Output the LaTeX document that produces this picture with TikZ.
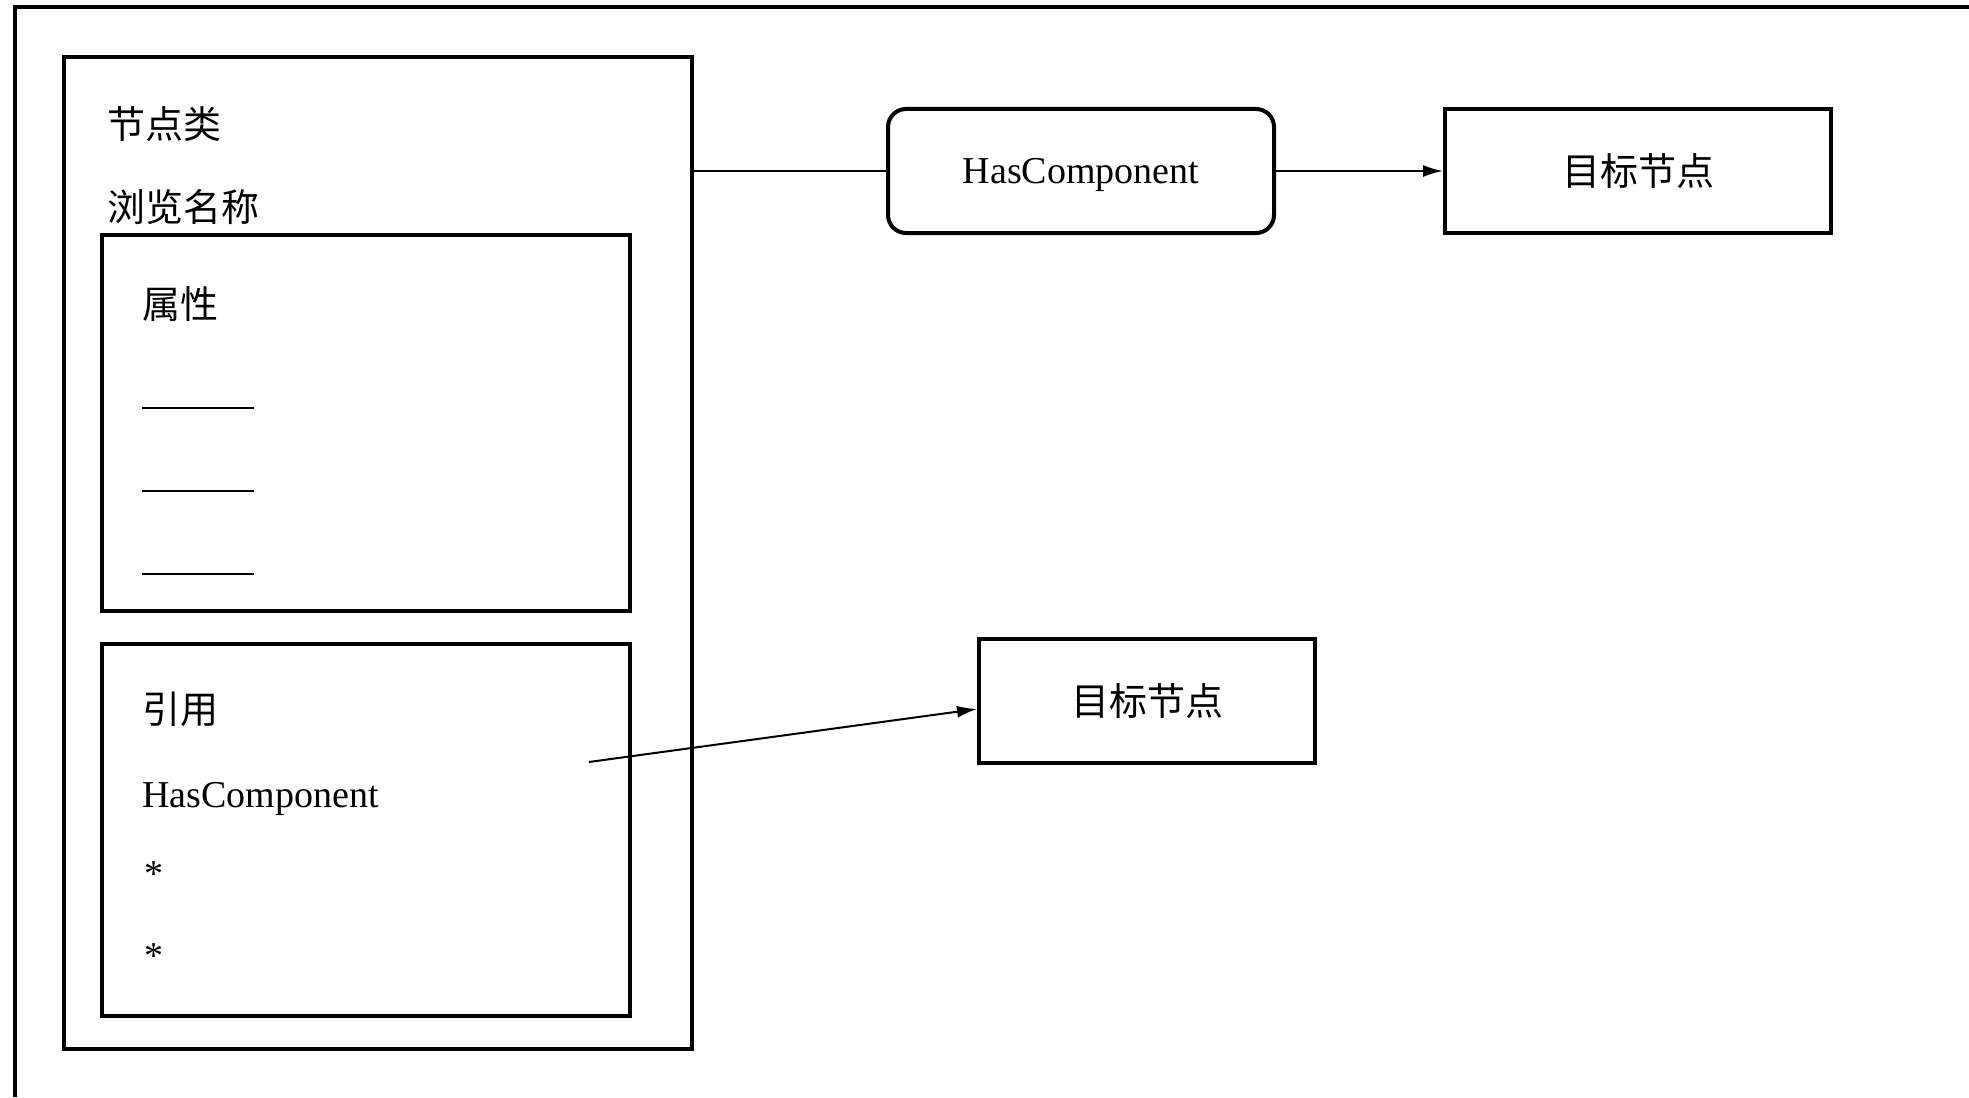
\documentclass[tikz,border=0pt]{standalone}
\usepackage{fontspec}
\setmainfont{Liberation Serif}
\newfontfamily\cjk{Noto Sans CJK SC}
\usetikzlibrary{arrows.meta,positioning,calc}

\begin{document}
\begin{tikzpicture}[
  x=0.5pt,y=-0.5pt,
  font=\fontsize{19}{23}\selectfont,
  >=Latex,
  arrow/.style={-{Latex[length=10pt,width=6pt]},line width=1pt},
  link/.style={line width=1pt},
  frame/.style={line width=1.6pt},
  classbox/.style={draw,line width=2pt,minimum width=314pt,minimum height=496pt,inner sep=0pt},
  listbox/.style={draw,line width=2pt,minimum width=264pt,inner sep=0pt},
  refbox/.style={draw,line width=2pt,rounded corners=9pt,minimum width=193pt,minimum height=62pt,text depth=0pt},
  targetbox/.style={draw,line width=2pt,minimum height=62pt},
  label/.style={anchor=west,inner sep=0pt},
  cn/.style={label,font=\fontsize{19}{23}\selectfont\cjk}
]
\useasboundingbox (0,0) rectangle (1969,1097);

% -------------------------------------------------------------------------
% outer frame
% -------------------------------------------------------------------------
\draw[frame] (1969,7) -- (15,7) -- (15,1097);

% -------------------------------------------------------------------------
% node class
% -------------------------------------------------------------------------
\node[classbox] (nodeclass) at (378,553) {};
\node[cn] (classname) at (107,124) {节点类};
\node[cn] (browsename) at (107,207) {浏览名称};

\node[listbox,minimum height=188pt] (attrs) at (366,423) {};
\node[cn] (attrtitle) at (142,304) {属性};
\foreach \y/\n in {408/a1,491/a2,574/a3}
  {\draw[line width=1pt] (142,\y) coordinate (\n) -- (254,\y);}

\node[listbox,minimum height=186pt] (refs) at (366,830) {};
\node[cn] (reftitle) at (142,709) {引用};
\node[label] (reftype) at (142,799) {HasComponent};
\node[label,anchor=base west] (star1) at (144,886) {*};
\node[label,anchor=base west] (star2) at (144,968) {*};
\coordinate (refstart) at (589,762);

% -------------------------------------------------------------------------
% reference and targets
% -------------------------------------------------------------------------
\node[refbox] (hascomp) at (1081,171) {HasComponent};
\node[targetbox,minimum width=193pt] (target1) at (1638,171) {\cjk 目标节点};
\node[targetbox,minimum width=168pt] (target2) at (1147,701) {\cjk 目标节点};

\draw[link] (hascomp.west) -- (hascomp.west -| nodeclass.east);
\draw[arrow] (hascomp.east) -- (target1.west);
\draw[arrow] (refstart) -- ($(target2.west)+(0,8)$);
\end{tikzpicture}
\end{document}
